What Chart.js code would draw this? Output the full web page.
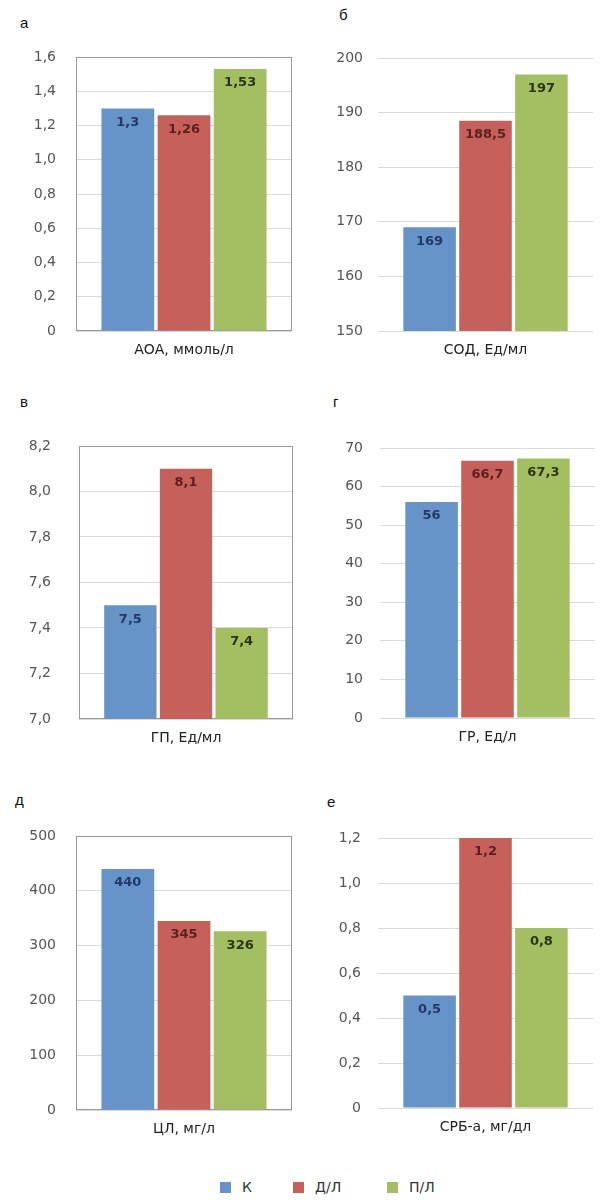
<!DOCTYPE html>
<html>
<head>
<meta charset="utf-8">
<script src="https://cdn.jsdelivr.net/npm/chart.js@4.4.1/dist/chart.umd.min.js"></script>
<style>
    body {
        margin: 0;
        width: 600px;
        height: 1200px;
        position: relative;
        background: #fff;
        font-family: 'DejaVu Sans', sans-serif;
    }
    .letter {
        position: absolute;
        font-family: 'Liberation Sans', Arial, sans-serif;
        font-size: 15px;
        line-height: 1;
        color: #111;
    }
    canvas {
        position: absolute;
    }
    .legend-item {
        position: absolute;
        top: 1179px;
        font-size: 14px;
        line-height: 16px;
        color: #333;
        display: flex;
        align-items: center;
    }
    .legend-item span {
        display: inline-block;
        width: 11px;
        height: 11px;
        margin-right: 11px;
    }
</style>
</head>
<body>

<div class="letter" style="left:20px; top:15px">а</div>
<div class="letter" style="left:339px; top:7px">б</div>
<div class="letter" style="left:20px; top:394px">в</div>
<div class="letter" style="left:333px; top:394px">г</div>
<div class="letter" style="left:15px; top:792px">д</div>
<div class="letter" style="left:327px; top:794px">е</div>

<canvas id="chart0" width="300" height="320" style="left:0; top:45px"></canvas>
<canvas id="chart1" width="300" height="320" style="left:300px; top:45px"></canvas>
<canvas id="chart2" width="300" height="320" style="left:0; top:430px"></canvas>
<canvas id="chart3" width="300" height="320" style="left:300px; top:430px"></canvas>
<canvas id="chart4" width="300" height="330" style="left:0; top:820px"></canvas>
<canvas id="chart5" width="300" height="330" style="left:300px; top:820px"></canvas>

<div id="legend"></div>

<script>
// DATA
const seriesNames = ['К', 'Д/Л', 'П/Л'];
const categories = ['АОА, ммоль/л', 'СОД, Ед/мл', 'ГП, Ед/мл', 'ГР, Ед/л', 'ЦЛ, мг/л', 'СРБ-а, мг/дл'];
const kValues = [1.3, 169, 7.5, 56, 440, 0.5];
const dlValues = [1.26, 188.5, 8.1, 66.7, 345, 1.2];
const plValues = [1.53, 197, 7.4, 67.3, 326, 0.8];

// axis ranges per panel
const axisMin = [0, 150, 7.0, 0, 0, 0];
const axisMax = [1.6, 200, 8.2, 70, 500, 1.2];
const axisStep = [0.2, 10, 0.2, 10, 100, 0.2];

// Styles
const barColors = ['#6693c8', '#c5615a', '#a4be62'];
const valueColors = ['#1f3a66', '#5c1f1b', '#2b3512'];

// Where each plot area sits inside its canvas (pixels)
const panelLayout = [
    { yWidth: 76, padTop: 12, padRight: 8, xHeight: 34, tickPad: 20, framed: true },
    { yWidth: 78, padTop: 13, padRight: 7, xHeight: 34, tickPad: 15, framed: false },
    { yWidth: 79, padTop: 16, padRight: 7, xHeight: 31, tickPad: 28, framed: true },
    { yWidth: 80, padTop: 18, padRight: 5, xHeight: 32, tickPad: 17, framed: false },
    { yWidth: 76, padTop: 16, padRight: 8, xHeight: 40, tickPad: 20, framed: true },
    { yWidth: 78, padTop: 18, padRight: 7, xHeight: 42, tickPad: 17, framed: false }
];

// numbers with a decimal comma
function formatNum(v) {
    return String(v).replace('.', ',');
}

function formatTick(v, step) {
    if (v === 0) return '0';
    if (step < 1) return v.toFixed(1).replace('.', ',');
    return String(v);
}

// draws the value inside the top of each bar
const valueLabels = {
    id: 'valueLabels',
    afterDatasetsDraw(chart) {
        const ctx = chart.ctx;
        ctx.save();
        ctx.font = 'bold 13px "DejaVu Sans", sans-serif';
        ctx.textAlign = 'center';
        ctx.textBaseline = 'middle';
        chart.data.datasets.forEach((ds, i) => {
            chart.getDatasetMeta(i).data.forEach((bar, j) => {
                ctx.fillStyle = valueColors[i];
                ctx.fillText(formatNum(ds.data[j]), bar.x, bar.y + 14);
            });
        });
        ctx.restore();
    }
};

// grey box around the plot area (panels а, в, д)
const plotFrame = {
    id: 'plotFrame',
    beforeDatasetsDraw(chart, args, opts) {
        if (!opts.show) return;
        const a = chart.chartArea;
        const ctx = chart.ctx;
        ctx.save();
        ctx.strokeStyle = '#999';
        ctx.lineWidth = 1;
        ctx.strokeRect(Math.round(a.left) + 0.5, Math.round(a.top) + 0.5,
            Math.round(a.right - a.left) - 1, Math.round(a.bottom - a.top) - 1);
        ctx.restore();
    }
};

const allValues = [kValues, dlValues, plValues];

categories.forEach((cat, p) => {
    const lay = panelLayout[p];
    const step = axisStep[p];

    new Chart(document.getElementById('chart' + p), {
        type: 'bar',
        data: {
            labels: [cat],
            datasets: seriesNames.map((name, i) => ({
                label: name,
                data: [allValues[i][p]],
                backgroundColor: barColors[i],
                borderWidth: 0
            }))
        },
        options: {
            responsive: false,
            animation: false,
            categoryPercentage: 0.78,
            barPercentage: 0.94,
            layout: {
                padding: { top: lay.padTop, right: lay.padRight, left: 0, bottom: 0 }
            },
            scales: {
                x: {
                    grid: { display: false, drawTicks: false },
                    border: { display: false },
                    ticks: {
                        color: '#222',
                        padding: 11,
                        font: { family: 'DejaVu Sans', size: 14 }
                    },
                    afterFit: scale => { scale.height = lay.xHeight; }
                },
                y: {
                    min: axisMin[p],
                    max: axisMax[p],
                    border: { display: false },
                    grid: { color: '#dadada', drawTicks: false },
                    ticks: {
                        stepSize: step,
                        color: '#555',
                        padding: lay.tickPad,
                        font: { family: 'DejaVu Sans', size: 14 },
                        callback: v => formatTick(Math.round(v * 10) / 10, step)
                    },
                    afterFit: scale => {
                        // keep the plot area where the picture has it
                        scale.width = lay.yWidth;
                        scale.paddingTop = 0;
                        scale.paddingBottom = 0;
                    }
                }
            },
            plugins: {
                legend: { display: false },
                tooltip: { enabled: false },
                plotFrame: { show: lay.framed }
            }
        },
        plugins: [valueLabels, plotFrame]
    });
});

// LEGEND
const legendLeft = [220, 293, 387];
const legend = document.getElementById('legend');
seriesNames.forEach((name, i) => {
    const item = document.createElement('div');
    item.className = 'legend-item';
    item.style.left = legendLeft[i] + 'px';
    item.innerHTML = `<span style="background:${barColors[i]}"></span>${name}`;
    legend.appendChild(item);
});
</script>
</body>
</html>
